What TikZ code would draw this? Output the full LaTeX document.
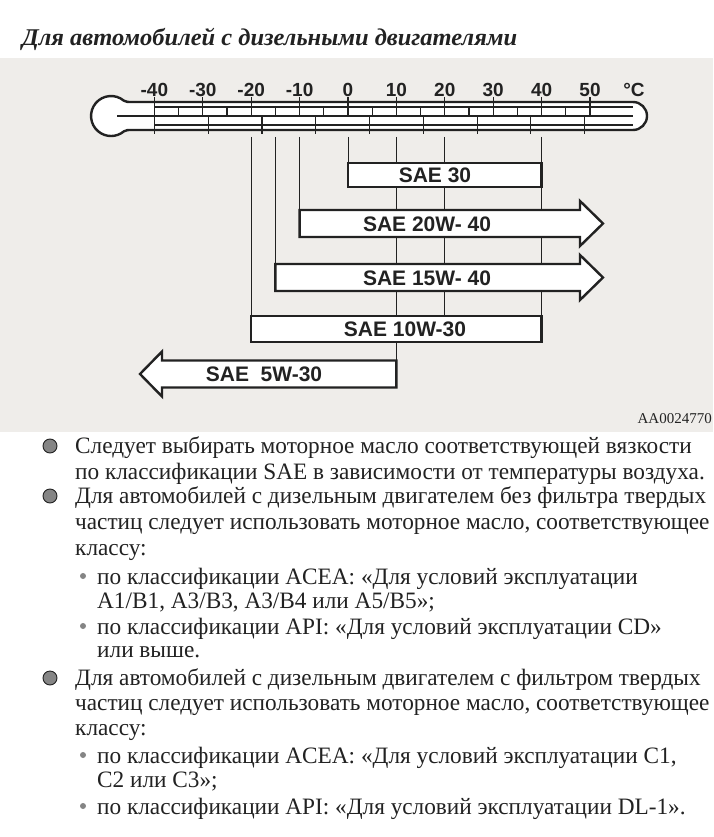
\documentclass[tikz,border=0pt]{standalone}
\usepackage{fontspec}
\setmainfont{Liberation Serif}
\setsansfont{Liberation Sans}
\newfontfamily\titlefont{Liberation Serif Bold Italic}[FakeStretch=1.02]
\newfontfamily\bodyfont{Liberation Serif}[FakeStretch=0.99]
\usetikzlibrary{positioning,calc}
\definecolor{paper}{HTML}{EFEDEA}
\definecolor{ink}{HTML}{222222}
\definecolor{dotgray}{HTML}{858585}
\newcommand{\degx}[1]{348+4.84*(#1)}

\begin{document}
\begin{tikzpicture}[x=1pt,y=-1pt,
  bar/.style={draw=ink,line width=2.4pt,fill=white},
  barlabel/.style={font=\sffamily\bfseries\fontsize{21}{21}\selectfont,text=ink,inner sep=0pt},
  scalelabel/.style={font=\sffamily\bfseries\fontsize{19}{19}\selectfont,text=ink,inner sep=0pt},
  tick/.style={draw=ink,line width=1.1pt},
  guide/.style={draw=ink,line width=1pt},
  bodytext/.style={anchor=base west,inner sep=0pt,font=\bodyfont\fontsize{23.5}{25}\selectfont,text=ink},
  bigdot/.style={circle,draw=ink,fill=dotgray,line width=0.9pt,minimum size=14pt,inner sep=0pt},
  smalldot/.style={circle,fill=dotgray,minimum size=6pt,inner sep=0pt}
]
\useasboundingbox (0,0) rectangle (713,837);
\fill[white] (0,0) rectangle (713,837);
\fill[paper] (0,58) rectangle (713,432);

% title
\node[anchor=base west,inner sep=0pt,font=\titlefont\fontsize{24}{24}\selectfont,text=ink]
  (title) at (22,46) {Для автомобилей с дизельными двигателями};

% thermometer
\draw[draw=ink,line width=2.4pt,fill=white] (132,130) -- (633,130) arc[start angle=90,end angle=-90,radius=14]
  -- (132,102) .. controls (127,102) .. (123.9,100.7) arc[start angle=-50,end angle=-310,radius=20]
  .. controls (127,130) .. (132,130) -- cycle;
\draw[tick] (117,116) -- (633,116);
\draw[tick] ({\degx{-40}},107) -- (633,107);
\draw[tick] ({\degx{-40}},125) -- (633,125);
\foreach \t in {-40,-30,...,50} {
  \draw[tick] ({\degx{\t}},97) -- ({\degx{\t}},116);
  \node[scalelabel] (lab\t) at ({\degx{\t}},90) {\t};
}
\foreach \t in {-35,-25,...,45}
  \draw[tick] ({\degx{\t}},107) -- ({\degx{\t}},116);
\foreach \f in {-40,-20,...,120}
  \draw[tick] ({\degx{(\f-32)*5/9}},116) -- ({\degx{(\f-32)*5/9}},134);
\node[scalelabel] (unit) at (634,90) {°C};

% guide lines down to the bars
\foreach \t/\y in {0/163,10/360,20/316,40/316,-10/210,-15/264,-20/316}
  \draw[guide] ({\degx{\t}},137) -- ({\degx{\t}},\y);

% bars
\draw[bar] ({\degx{0}},163) rectangle ({\degx{40}},187);
\draw[bar] ({\degx{-10}},210) -- (580,210) -- (580,201) -- (603,223.5) -- (580,246) -- (580,237) -- ({\degx{-10}},237) -- cycle;
\draw[bar] ({\degx{-15}},264) -- (580,264) -- (580,255) -- (603,277.5) -- (580,300) -- (580,291) -- ({\degx{-15}},291) -- cycle;
\draw[bar] ({\degx{-20}},316) rectangle ({\degx{40}},342);
\draw[bar] ({\degx{10}},360.5) -- (162,360.5) -- (162,351.5) -- (140,374) -- (162,396.5) -- (162,387.5) -- ({\degx{10}},387.5) -- cycle;

\node[barlabel] (sae30) at (435,175) {SAE 30};
\node[barlabel] (sae20w40) at (427,224) {SAE 20W- 40};
\node[barlabel] (sae15w40) at (427,278) {SAE 15W- 40};
\node[barlabel] (sae10w30) at (405,329.5) {SAE 10W-30};
\node[barlabel] (sae5w30) at (264,374.5) {SAE\ \ 5W-30};

\node[anchor=base east,inner sep=0pt,font=\fontsize{15}{15}\selectfont,text=ink] (code) at (712,423) {AA0024770};

% text below the chart
\node[bodytext] (l1) at (75,453) {Следует выбирать моторное масло соответствующей вязкости};
\node[bodytext] (l2) at (75,479) {по классификации SAE в зависимости от температуры воздуха.};
\node[bodytext] (l3) at (75,503) {Для автомобилей с дизельным двигателем без фильтра твердых};
\node[bodytext] (l4) at (75,529) {частиц следует использовать моторное масло, соответствующее};
\node[bodytext] (l5) at (75,555) {классу:};
\node[bodytext] (l6) at (97,584) {по классификации ACEA: «Для условий эксплуатации};
\node[bodytext] (l7) at (97,608) {A1/B1, A3/B3, A3/B4 или A5/B5»;};
\node[bodytext] (l8) at (97,634) {по классификации API: «Для условий эксплуатации CD»};
\node[bodytext] (l9) at (97,657) {или выше.};
\node[bodytext] (l10) at (75,685) {Для автомобилей с дизельным двигателем с фильтром твердых};
\node[bodytext] (l11) at (75,710) {частиц следует использовать моторное масло, соответствующее};
\node[bodytext] (l12) at (75,735) {классу:};
\node[bodytext] (l13) at (97,763) {по классификации ACEA: «Для условий эксплуатации C1,};
\node[bodytext] (l14) at (97,787) {C2 или C3»;};
\node[bodytext] (l15) at (97,814) {по классификации API: «Для условий эксплуатации DL-1».};

\node[bigdot] (b1) at (50,446) {};
\node[bigdot] (b2) at (50,496) {};
\node[bigdot] (b3) at (50,678) {};
\node[smalldot] (s1) at (83,576) {};
\node[smalldot] (s2) at (83,626) {};
\node[smalldot] (s3) at (83,755) {};
\node[smalldot] (s4) at (83,806) {};
\end{tikzpicture}
\end{document}
